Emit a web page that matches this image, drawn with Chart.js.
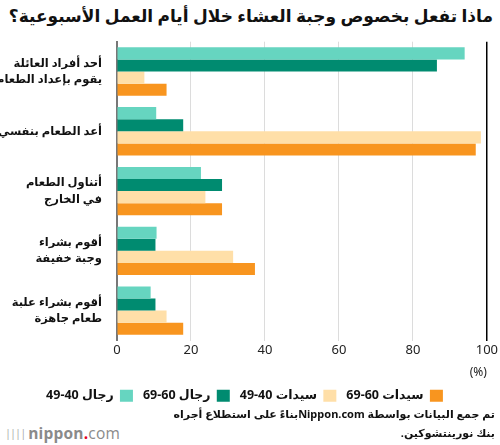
<!DOCTYPE html>
<html lang="ar">
<head>
<meta charset="utf-8">
<script src="https://cdn.jsdelivr.net/npm/chart.js@4.4.1/dist/chart.umd.min.js"></script>
<style>
  html, body { margin: 0; padding: 0; background: #fff; }
  body { width: 500px; height: 445px; position: relative; overflow: hidden;
         font-family: "Noto Sans", "DejaVu Sans", sans-serif; }
  #title { position: absolute; top: 4px; right: 7px; direction: rtl;
           font-size: 17px; font-weight: bold; color: #111; white-space: nowrap; }
  #wrap { position: absolute; top: 18px; left: 0; width: 500px; height: 394px; }
  #source { position: absolute; top: 404px; right: 5px; direction: rtl; text-align: right;
            font-size: 11px; font-weight: bold; color: #111; line-height: 19px; white-space: nowrap; }
  #logo { position: absolute; top: 423px; left: 5px; font-size: 15.5px; color: #8a8a8a;
          font-family: "Open Sans", "DejaVu Sans", sans-serif; letter-spacing: 0.2px; line-height: 20px; }
  #logo .bars { font-size: 11px; letter-spacing: -1px; margin-right: 3px; color: #aaa; vertical-align: 2px; }
  #logo .dot { color: #e6001e; font-weight: bold; }
</style>
</head>
<body>
<div id="title">ماذا تفعل بخصوص وجبة العشاء خلال أيام العمل الأسبوعية؟</div>
<div id="wrap"><canvas id="chart"></canvas></div>
<div id="logo"><span class="bars">||||</span><b>nippon</b><span class="dot">.</span>com</div>
<div id="source">تم جمع البيانات بواسطة Nippon.comبناءً على استطلاع أجراه<br>بنك نورينتشوكين.</div>

<script>
// Categories (y axis), top to bottom
const categories = [
    ['أحد أفراد العائلة', 'يقوم بإعداد الطعام'],
    'أعد الطعام بنفسي',
    ['أتناول الطعام', 'في الخارج'],
    ['أقوم بشراء', 'وجبة خفيفة'],
    ['أقوم بشراء علبة', 'طعام جاهزة']
];

const seriesLabels = ['رجال 40-49', 'رجال 60-69', 'سيدات 40-49', 'سيدات 60-69'];
const seriesColors = ['#66d5c0', '#008b70', '#ffdfa8', '#f8951f'];

// Values in percent
const men4049 = [94, 10.6, 22.7, 10.7, 9.1];
const men6069 = [86.5, 17.9, 28.4, 10.4, 10.4];
const women4049 = [7.4, 98.4, 23.9, 31.4, 13.4];
const women6069 = [13.4, 97, 28.4, 37.3, 17.9];

const xTicks = [0, 20, 40, 60, 80, 100];

const seriesValues = [men4049, men6069, women4049, women6069];
const fontFamily = '"Noto Sans", "DejaVu Sans", sans-serif';

const ctx = document.getElementById('chart').getContext('2d');
new Chart(ctx, {
    type: 'bar',
    data: {
        labels: categories,
        datasets: seriesValues.map((values, i) => ({
            label: seriesLabels[i],
            data: values,
            backgroundColor: seriesColors[i],
            borderWidth: 0,
            categoryPercentage: 0.81,
            barPercentage: 1.0
        }))
    },
    options: {
        indexAxis: 'y',
        responsive: true,
        maintainAspectRatio: false,
        animation: false,
        layout: { padding: { top: 13, right: 11, left: 0, bottom: 0 } },
        scales: {
            x: {
                min: 0,
                max: 100,
                afterBuildTicks: (scale) => {
                    scale.ticks = xTicks.map(v => ({ value: v }));
                },
                grid: {
                    color: (c) => c.tick && c.tick.value === 100 ? '#000' : '#dcdcdc',
                    lineWidth: (c) => c.tick && c.tick.value === 100 ? 1.5 : 1,
                    drawTicks: false
                },
                border: { display: false },
                ticks: {
                    color: '#222',
                    font: { size: 13, family: fontFamily },
                    padding: 2
                },
                title: {
                    display: true,
                    text: '(%)',
                    align: 'end',
                    color: '#222',
                    font: { size: 12, family: fontFamily },
                    padding: { top: 5, bottom: 0 }
                }
            },
            y: {
                grid: { display: false },
                border: { display: true, color: '#777', width: 2 },
                afterFit: (scale) => { scale.width = 117; },
                ticks: {
                    color: '#111',
                    padding: 7,
                    font: { size: 11.5, weight: 'bold', family: fontFamily, lineHeight: 1.45 }
                }
            }
        },
        plugins: {
            legend: {
                position: 'bottom',
                rtl: true,
                reverse: true,
                labels: {
                    boxWidth: 13,
                    boxHeight: 12,
                    padding: 10,
                    color: '#111',
                    font: { size: 12.5, weight: 'bold', family: fontFamily }
                }
            },
            tooltip: { enabled: false }
        }
    }
});
</script>
</body>
</html>
